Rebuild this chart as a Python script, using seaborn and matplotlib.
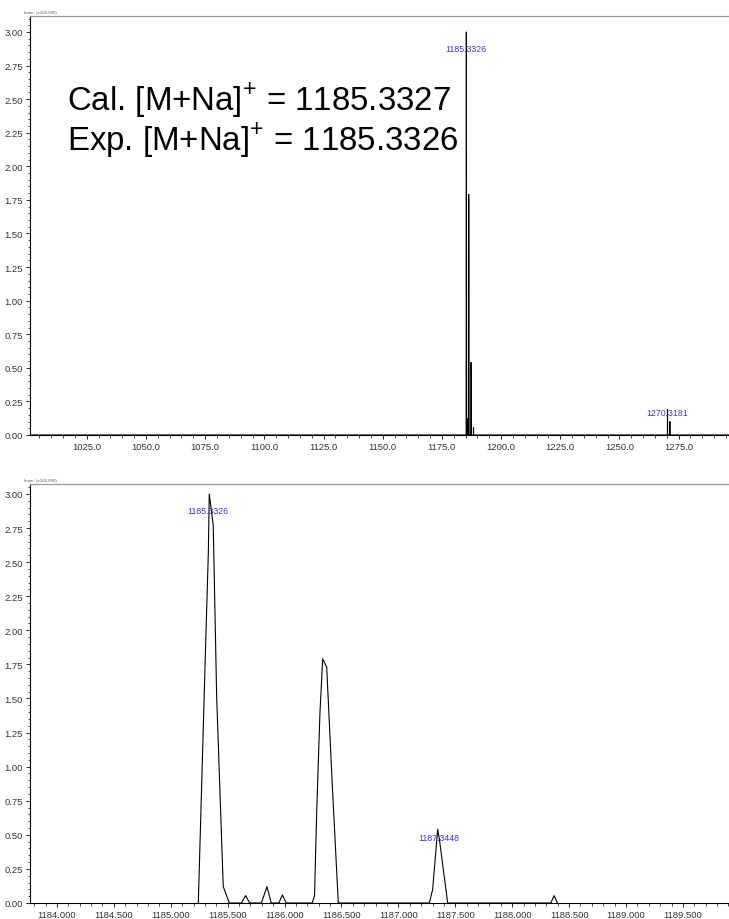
import matplotlib
matplotlib.use("Agg")
import matplotlib.pyplot as plt
import pandas as pd
import seaborn as sns
from matplotlib.ticker import FormatStrFormatter, MultipleLocator

sns.set_theme(style="white")
plt.rcParams["font.family"] = ["Liberation Sans", "DejaVu Sans"]
plt.rcParams["mathtext.fontset"] = "custom"
plt.rcParams["mathtext.rm"] = "Liberation Sans"

# profile spectrum (m/z, intensity x100,000)
mz_cluster = [1185.242, 1185.301, 1185.330, 1185.338, 1185.373, 1185.403, 1185.461, 1185.514,
              1185.620, 1185.658, 1185.693, 1185.796, 1185.845, 1185.883,
              1185.950, 1185.980, 1186.015,
              1186.243, 1186.263, 1186.282, 1186.311, 1186.335, 1186.370, 1186.420, 1186.472,
              1187.272, 1187.301, 1187.345, 1187.360, 1187.433,
              1188.339, 1188.368, 1188.397]
int_cluster = [0.0, 1.74, 2.57, 3.00, 2.77, 1.52, 0.12, 0.0,
               0.0, 0.054, 0.0, 0.0, 0.12, 0.0,
               0.0, 0.059, 0.0,
               0.0, 0.054, 0.665, 1.40, 1.79, 1.73, 0.85, 0.0,
               0.0, 0.10, 0.54, 0.47, 0.0,
               0.0, 0.054, 0.0]
mz_far = [1270.28, 1270.32, 1270.36, 1271.28, 1271.32, 1271.36]
int_far = [0.0, 0.19, 0.0, 0.0, 0.10, 0.0]

peak_labels_top = ["1185.3326", "1270.3181"]
peak_mz_top = [1185.33, 1270.32]
peak_y_top = [2.88, 0.17]
peak_labels_zoom = ["1185.3326", "1187.3448"]
peak_mz_zoom = [1185.33, 1187.351]
peak_y_zoom = [2.88, 0.48]

full_range = (1001.0, 1296.3)
zoom_range = (1183.763, 1189.905)

spectrum = pd.DataFrame({
    "mz": [full_range[0]] + mz_cluster + mz_far + [full_range[1]],
    "intensity": [0.0] + int_cluster + int_far + [0.0],
})

W, H = 729, 920
fig = plt.figure(figsize=(W / 100, H / 100), dpi=100)
ax_top = fig.add_axes([30 / W, 1 - 436 / H, 699 / W, 419 / H])
ax_bot = fig.add_axes([30 / W, 1 - 904 / H, 699 / W, 419 / H])


def style_axis(ax, xlim, ylim, xmajor, xminor, xfmt):
    ax.set_xlim(*xlim)
    ax.set_ylim(*ylim)
    ax.xaxis.set_major_locator(MultipleLocator(xmajor))
    ax.xaxis.set_minor_locator(MultipleLocator(xminor))
    ax.xaxis.set_major_formatter(FormatStrFormatter(xfmt))
    ax.yaxis.set_major_locator(MultipleLocator(0.25))
    ax.yaxis.set_minor_locator(MultipleLocator(0.05))
    ax.yaxis.set_major_formatter(FormatStrFormatter("%.2f"))
    ax.tick_params(which="major", direction="out", length=3, width=0.6, color="black",
                   labelsize=6.8, labelcolor="#333333", pad=2, left=True, bottom=True)
    ax.tick_params(which="minor", direction="out", length=1.8, width=0.5, color="black",
                   left=True, bottom=True)
    ax.spines["right"].set_visible(False)
    ax.spines["top"].set_color("#9a9a9a")
    ax.spines["top"].set_linewidth(0.9)
    for side in ("left", "bottom"):
        ax.spines[side].set_color("black")
        ax.spines[side].set_linewidth(0.8)
    ax.set_xlabel("")
    ax.set_ylabel("")
    ax.grid(False)


sns.lineplot(data=spectrum, x="mz", y="intensity", ax=ax_top, color="black",
             linewidth=0.8, sort=True, estimator=None)
style_axis(ax_top, full_range, (0, 3.119), 25, 5, "%.1f")

zoom_df = spectrum[(spectrum["mz"] > 1184) & (spectrum["mz"] < 1190)]
sns.lineplot(data=zoom_df, x="mz", y="intensity", ax=ax_bot, color="black",
             linewidth=0.8, sort=True, estimator=None)
style_axis(ax_bot, zoom_range, (0, 3.073), 0.5, 0.1, "%.3f")

for lab, x, y in zip(peak_labels_top, peak_mz_top, peak_y_top):
    ax_top.text(x, y, lab, color="#3535f0", fontsize=6.3, ha="center", va="center")
for lab, x, y in zip(peak_labels_zoom, peak_mz_zoom, peak_y_zoom):
    ax_bot.text(x, y, lab, color="#3535f0", fontsize=6.3, ha="center", va="center")

for ypx in (13, 481):
    fig.text(24 / W, 1 - ypx / H, "Inten. (x100,000)", fontsize=3.2, color="#555555",
             ha="left", va="center")

fig.text(67 / W, 1 - 101 / H, r"Cal. [M+Na]$^{+}$ = 1185.3327", fontsize=23.8,
         color="black", ha="left", va="center")
fig.text(67 / W, 1 - 141 / H, r"Exp. [M+Na]$^{+}$ = 1185.3326", fontsize=23.8,
         color="black", ha="left", va="center")

fig.savefig("out.png", dpi=100, facecolor="white")
